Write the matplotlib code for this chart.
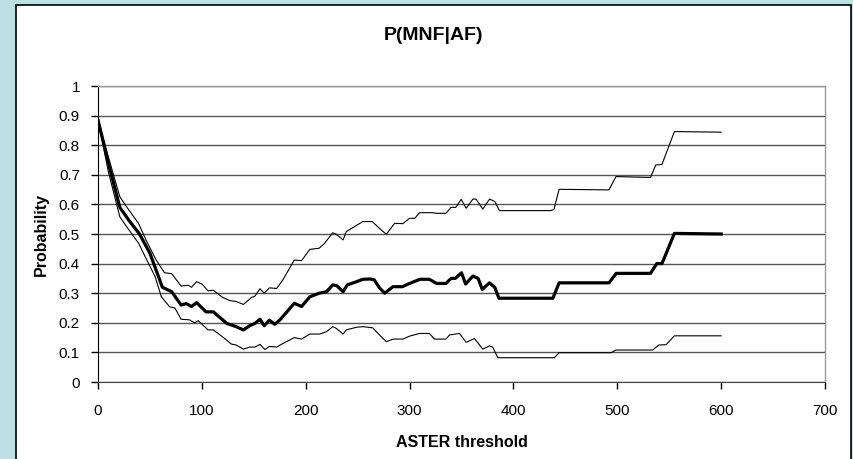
import matplotlib
matplotlib.use("Agg")
import matplotlib.pyplot as plt
from matplotlib.patches import Rectangle

plt.rcParams["font.family"] = ["Liberation Sans", "DejaVu Sans"]

# ASTER threshold vs probability, three curves
mid_x = [0, 10, 21, 30, 40, 50, 62, 71, 80, 85,
         90, 95, 104, 111, 124, 133, 140, 146, 151, 156,
         160, 165, 170, 175, 189, 196, 204, 213, 220, 226,
         230, 236, 240, 249, 255, 262, 266, 271, 276, 284,
         293, 300, 310, 319, 326, 335, 340, 344, 350, 354,
         361, 366, 370, 377, 382, 386, 438, 444, 492, 499,
         532, 538, 543, 555, 600]
mid_y = [0.885, 0.74, 0.59, 0.545, 0.50, 0.435, 0.32, 0.305, 0.26, 0.265,
         0.255, 0.268, 0.237, 0.237, 0.198, 0.187, 0.176, 0.19, 0.198, 0.212,
         0.19, 0.209, 0.195, 0.209, 0.266, 0.255, 0.288, 0.30, 0.305, 0.328,
         0.325, 0.305, 0.328, 0.339, 0.347, 0.348, 0.345, 0.318, 0.30, 0.322,
         0.322, 0.333, 0.347, 0.347, 0.333, 0.333, 0.35, 0.35, 0.369, 0.331,
         0.358, 0.35, 0.313, 0.335, 0.32, 0.283, 0.283, 0.335, 0.335, 0.367,
         0.367, 0.40, 0.40, 0.502, 0.50]

upper_x = [0, 10, 21, 27.5, 39, 47, 56, 64, 71, 80,
           87, 90, 95, 100, 106, 111, 120, 127, 133, 140,
           148, 151, 156, 160, 165, 172, 178, 189, 196, 204,
           213, 218, 226, 229, 236, 239, 255, 264, 271, 277.6,
           285.6, 293.5, 300, 305, 309.6, 322, 325.6, 335, 340, 344.5,
           349.7, 354.5, 361, 364, 370.5, 377, 382, 386.5, 436, 439,
           444, 492, 498.7, 532, 537, 543, 555, 600]
upper_y = [0.885, 0.76, 0.626, 0.592, 0.536, 0.474, 0.412, 0.369, 0.366, 0.324,
           0.327, 0.32, 0.339, 0.331, 0.308, 0.31, 0.286, 0.275, 0.272, 0.262,
           0.286, 0.29, 0.315, 0.30, 0.318, 0.316, 0.345, 0.412, 0.41, 0.448,
           0.452, 0.468, 0.504, 0.50, 0.48, 0.508, 0.542, 0.542, 0.519, 0.499,
           0.536, 0.535, 0.553, 0.553, 0.572, 0.572, 0.570, 0.570, 0.59, 0.59,
           0.617, 0.587, 0.618, 0.618, 0.584, 0.618, 0.61, 0.579, 0.579, 0.583,
           0.651, 0.649, 0.694, 0.691, 0.733, 0.735, 0.846, 0.844]

lower_x = [0, 10, 21, 27.5, 39, 47, 55, 61, 69, 74,
           80, 88, 93, 96.5, 106, 111, 120.5, 128.5, 133, 140,
           146, 151, 156, 160.6, 165, 172, 178, 189, 196, 204,
           213.5, 220, 226, 229, 236, 239, 249, 255, 264.5, 271,
           277.6, 284, 293.5, 300, 309.6, 319, 324, 335, 338.5, 348,
           354.5, 362.5, 370.5, 377, 380, 385, 439.4, 444, 494, 498.7,
           534, 540, 547, 555, 600]
lower_y = [0.885, 0.71, 0.558, 0.525, 0.469, 0.412, 0.356, 0.288, 0.254, 0.25,
           0.212, 0.21, 0.20, 0.207, 0.176, 0.176, 0.151, 0.128, 0.125, 0.111,
           0.118, 0.118, 0.127, 0.11, 0.12, 0.118, 0.13, 0.15, 0.145, 0.162,
           0.162, 0.17, 0.187, 0.182, 0.162, 0.176, 0.185, 0.187, 0.183, 0.159,
           0.136, 0.145, 0.145, 0.155, 0.164, 0.164, 0.145, 0.145, 0.159, 0.164,
           0.134, 0.147, 0.111, 0.122, 0.118, 0.082, 0.082, 0.099, 0.099, 0.108,
           0.108, 0.125, 0.126, 0.156, 0.156]

x_ticks = [0, 100, 200, 300, 400, 500, 600, 700]
y_ticks = [0, 0.1, 0.2, 0.3, 0.4, 0.5, 0.6, 0.7, 0.8, 0.9, 1]
y_labels = ["0", "0.1", "0.2", "0.3", "0.4", "0.5", "0.6", "0.7", "0.8", "0.9", "1"]

fig = plt.figure(figsize=(8.54, 4.59), dpi=100, facecolor="#bce0e4")

# white chart panel with black border
panel = Rectangle((16 / 854, -0.05), 835 / 854, 1.05 - 5 / 459,
                  transform=fig.transFigure, facecolor="white",
                  edgecolor="black", linewidth=1.2, zorder=-10)
fig.patches.append(panel)

ax = fig.add_axes([98 / 854, 77 / 459, 727 / 854, 296 / 459])
ax.set_facecolor("white")
ax.set_zorder(1)

ax.plot(upper_x, upper_y, color="black", linewidth=0.8)
ax.plot(lower_x, lower_y, color="black", linewidth=0.8)
ax.plot(mid_x, mid_y, color="black", linewidth=2.3)

ax.set_xlim(0, 700)
ax.set_ylim(0, 1)
ax.set_xticks(x_ticks)
ax.set_yticks(y_ticks)
ax.set_yticklabels(y_labels)
ax.tick_params(direction="out", length=5, width=1, labelsize=11)
ax.tick_params(axis="x", pad=11)
ax.tick_params(axis="y", pad=8)
ax.yaxis.grid(True, color="#555555", linewidth=1.0)
ax.set_axisbelow(True)

for s in ["top", "right"]:
    ax.spines[s].set_color("#999999")
    ax.spines[s].set_linewidth(1.0)
ax.spines["left"].set_color("black")
ax.spines["bottom"].set_color("#444444")

ax.set_xlabel("ASTER threshold", fontsize=11.5, fontweight="bold", labelpad=12)
ax.set_ylabel("Probability", fontsize=11.5, fontweight="bold", labelpad=7)
fig.text(433.5 / 854, 1 - 35 / 459, "P(MNF|AF)", fontsize=14, fontweight="bold",
         ha="center", va="center")

fig.savefig("out.png", dpi=100, facecolor=fig.get_facecolor())
